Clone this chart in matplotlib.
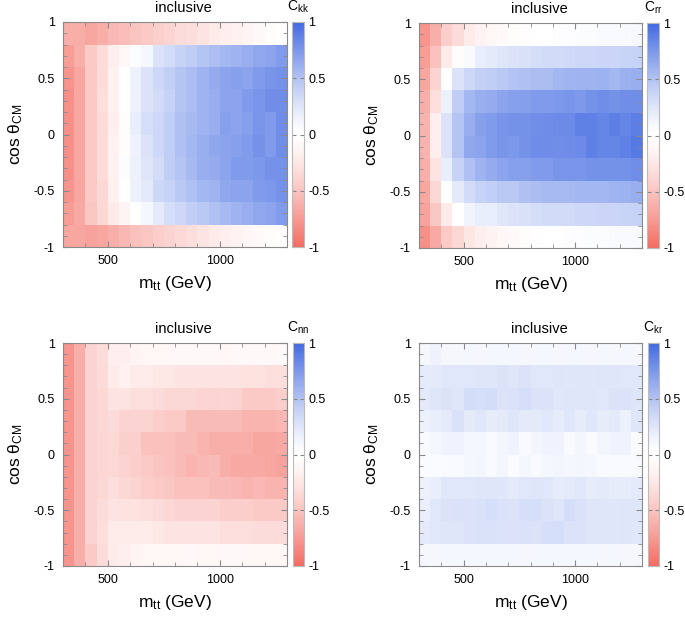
import numpy as np
import matplotlib
matplotlib.use('Agg')
import matplotlib.pyplot as plt
from matplotlib.colors import ListedColormap
from matplotlib.ticker import MultipleLocator

plt.rcParams['font.family'] = ['Liberation Sans', 'DejaVu Sans']
plt.rcParams['mathtext.fontset'] = 'custom'
plt.rcParams['mathtext.rm'] = 'Liberation Sans'
plt.rcParams['mathtext.it'] = 'Liberation Sans:italic'

# bins: m_tt 300..1300 GeV in 50 GeV steps, cos theta -1..1 in 0.2 steps
mtt_edges = np.arange(300, 1301, 50)
cos_edges = np.linspace(-1, 1, 11)

# rows listed from top (cos 0.8..1) to bottom (cos -1..-0.8)
c_kk = [
    [-0.62, -0.64, -0.68, -0.64, -0.57, -0.54, -0.49, -0.46, -0.42, -0.38, -0.33, -0.31, -0.27, -0.22, -0.19, -0.16, -0.13, -0.095, -0.05, -0.03],
    [-0.73, -0.62, -0.46, -0.33, -0.19, -0.11, 0.05, 0.11, 0.27, 0.33, 0.39, 0.43, 0.48, 0.52, 0.57, 0.59, 0.62, 0.66, 0.68, 0.73],
    [-0.78, -0.68, -0.46, -0.33, -0.16, 0.0, 0.16, 0.27, 0.36, 0.42, 0.48, 0.53, 0.59, 0.64, 0.68, 0.7, 0.68, 0.73, 0.76, 0.78],
    [-0.8, -0.68, -0.46, -0.31, -0.16, 0.0, 0.15, 0.27, 0.33, 0.39, 0.48, 0.53, 0.59, 0.62, 0.68, 0.68, 0.73, 0.76, 0.8, 0.8],
    [-0.8, -0.68, -0.46, -0.33, -0.19, -0.05, 0.19, 0.31, 0.36, 0.43, 0.51, 0.55, 0.59, 0.62, 0.7, 0.68, 0.71, 0.76, 0.73, 0.81],
    [-0.8, -0.68, -0.46, -0.33, -0.16, -0.05, 0.15, 0.27, 0.36, 0.43, 0.51, 0.57, 0.62, 0.66, 0.68, 0.7, 0.73, 0.78, 0.73, 0.8],
    [-0.8, -0.68, -0.46, -0.33, -0.16, 0.05, 0.16, 0.25, 0.33, 0.43, 0.48, 0.55, 0.62, 0.64, 0.68, 0.73, 0.73, 0.75, 0.78, 0.78],
    [-0.78, -0.68, -0.46, -0.36, -0.16, 0.0, 0.16, 0.22, 0.36, 0.39, 0.46, 0.51, 0.57, 0.59, 0.66, 0.68, 0.68, 0.73, 0.75, 0.78],
    [-0.73, -0.66, -0.48, -0.36, -0.22, -0.13, 0.0, 0.11, 0.22, 0.31, 0.36, 0.42, 0.46, 0.51, 0.55, 0.59, 0.62, 0.66, 0.68, 0.73],
    [-0.68, -0.68, -0.7, -0.68, -0.62, -0.57, -0.51, -0.48, -0.43, -0.39, -0.35, -0.31, -0.27, -0.22, -0.19, -0.145, -0.11, -0.08, -0.05, -0.03],
]

c_rr = [
    [-0.78, -0.62, -0.43, -0.33, -0.22, -0.145, -0.11, -0.08, -0.05, -0.03, 0.0, 0.0, 0.03, 0.03, 0.05, 0.05, 0.08, 0.08, 0.08, 0.095],
    [-0.73, -0.51, -0.22, -0.05, 0.08, 0.19, 0.22, 0.25, 0.27, 0.29, 0.31, 0.33, 0.33, 0.34, 0.36, 0.36, 0.37, 0.37, 0.38, 0.39],
    [-0.68, -0.39, 0.0, 0.27, 0.36, 0.41, 0.43, 0.46, 0.49, 0.51, 0.53, 0.53, 0.57, 0.58, 0.59, 0.59, 0.6, 0.57, 0.61, 0.62],
    [-0.62, -0.31, 0.16, 0.43, 0.57, 0.62, 0.64, 0.68, 0.7, 0.71, 0.73, 0.73, 0.75, 0.76, 0.74, 0.78, 0.8, 0.78, 0.8, 0.8],
    [-0.6, -0.19, 0.27, 0.48, 0.62, 0.7, 0.73, 0.76, 0.78, 0.78, 0.8, 0.81, 0.82, 0.82, 0.87, 0.87, 0.85, 0.89, 0.85, 0.89],
    [-0.6, -0.19, 0.27, 0.48, 0.66, 0.68, 0.73, 0.76, 0.75, 0.78, 0.81, 0.81, 0.8, 0.81, 0.82, 0.87, 0.85, 0.85, 0.87, 0.91],
    [-0.62, -0.27, 0.19, 0.39, 0.51, 0.59, 0.64, 0.68, 0.71, 0.7, 0.73, 0.73, 0.76, 0.76, 0.76, 0.78, 0.78, 0.78, 0.78, 0.8],
    [-0.68, -0.36, 0.0, 0.22, 0.33, 0.39, 0.42, 0.46, 0.46, 0.51, 0.53, 0.55, 0.55, 0.55, 0.57, 0.57, 0.57, 0.59, 0.6, 0.62],
    [-0.7, -0.48, -0.22, 0.0, 0.13, 0.19, 0.19, 0.24, 0.27, 0.29, 0.31, 0.33, 0.33, 0.33, 0.36, 0.36, 0.37, 0.37, 0.38, 0.39],
    [-0.8, -0.66, -0.46, -0.36, -0.25, -0.19, -0.145, -0.11, -0.08, -0.05, -0.03, 0.0, 0.0, 0.03, 0.03, 0.05, 0.05, 0.08, 0.08, 0.08],
]

c_nn = [
    [-0.78, -0.62, -0.39, -0.33, -0.19, -0.19, -0.13, -0.11, -0.11, -0.11, -0.095, -0.095, -0.095, -0.095, -0.11, -0.095, -0.095, -0.095, -0.095, -0.08],
    [-0.78, -0.62, -0.39, -0.33, -0.22, -0.16, -0.22, -0.22, -0.24, -0.24, -0.27, -0.27, -0.27, -0.27, -0.28, -0.28, -0.29, -0.29, -0.31, -0.31],
    [-0.78, -0.62, -0.39, -0.36, -0.27, -0.27, -0.31, -0.31, -0.33, -0.36, -0.36, -0.36, -0.38, -0.39, -0.38, -0.39, -0.46, -0.46, -0.46, -0.43],
    [-0.78, -0.62, -0.39, -0.36, -0.33, -0.39, -0.39, -0.39, -0.43, -0.46, -0.46, -0.55, -0.55, -0.55, -0.55, -0.55, -0.59, -0.59, -0.59, -0.57],
    [-0.78, -0.62, -0.39, -0.37, -0.36, -0.42, -0.42, -0.51, -0.51, -0.51, -0.55, -0.55, -0.59, -0.62, -0.62, -0.62, -0.62, -0.68, -0.68, -0.66],
    [-0.78, -0.62, -0.39, -0.37, -0.36, -0.39, -0.43, -0.46, -0.49, -0.51, -0.55, -0.59, -0.57, -0.55, -0.62, -0.66, -0.66, -0.66, -0.68, -0.7],
    [-0.78, -0.62, -0.39, -0.36, -0.31, -0.36, -0.39, -0.43, -0.46, -0.48, -0.51, -0.51, -0.51, -0.55, -0.55, -0.57, -0.59, -0.57, -0.59, -0.59],
    [-0.78, -0.62, -0.39, -0.33, -0.27, -0.29, -0.29, -0.31, -0.33, -0.36, -0.39, -0.39, -0.39, -0.39, -0.43, -0.43, -0.43, -0.46, -0.46, -0.46],
    [-0.78, -0.62, -0.39, -0.31, -0.22, -0.22, -0.22, -0.22, -0.24, -0.27, -0.27, -0.27, -0.27, -0.28, -0.31, -0.31, -0.31, -0.33, -0.33, -0.33],
    [-0.78, -0.62, -0.46, -0.33, -0.22, -0.19, -0.13, -0.11, -0.11, -0.11, -0.11, -0.095, -0.11, -0.11, -0.095, -0.095, -0.11, -0.11, -0.11, -0.11],
]

c_kr = [
    [0.1, 0.15, 0.1, 0.1, 0.11, 0.1, 0.11, 0.11, 0.11, 0.1, 0.11, 0.11, 0.1, 0.11, 0.11, 0.1, 0.11, 0.1, 0.11, 0.1],
    [0.21, 0.22, 0.24, 0.24, 0.24, 0.25, 0.25, 0.27, 0.25, 0.27, 0.24, 0.24, 0.25, 0.24, 0.25, 0.24, 0.25, 0.25, 0.24, 0.24],
    [0.22, 0.25, 0.27, 0.25, 0.32, 0.3, 0.32, 0.27, 0.28, 0.31, 0.27, 0.27, 0.24, 0.25, 0.25, 0.25, 0.24, 0.27, 0.27, 0.25],
    [0.16, 0.19, 0.22, 0.28, 0.22, 0.24, 0.2, 0.22, 0.25, 0.22, 0.22, 0.24, 0.2, 0.24, 0.2, 0.24, 0.2, 0.22, 0.16, 0.25],
    [0.08, 0.11, 0.14, 0.14, 0.11, 0.11, 0.08, 0.12, 0.14, 0.08, 0.12, 0.14, 0.14, 0.08, 0.12, 0.08, 0.12, 0.14, 0.14, 0.06],
    [0.06, 0.06, 0.08, 0.08, 0.11, 0.12, 0.08, 0.12, 0.06, 0.11, 0.08, 0.11, 0.12, 0.11, 0.12, 0.11, 0.08, 0.08, 0.08, 0.08],
    [0.16, 0.19, 0.24, 0.24, 0.24, 0.25, 0.25, 0.24, 0.22, 0.24, 0.25, 0.24, 0.2, 0.22, 0.24, 0.2, 0.22, 0.2, 0.2, 0.22],
    [0.18, 0.24, 0.27, 0.28, 0.27, 0.28, 0.3, 0.28, 0.27, 0.3, 0.3, 0.27, 0.25, 0.31, 0.28, 0.25, 0.25, 0.24, 0.25, 0.25],
    [0.22, 0.24, 0.25, 0.25, 0.27, 0.28, 0.28, 0.27, 0.27, 0.28, 0.27, 0.3, 0.31, 0.27, 0.27, 0.25, 0.25, 0.24, 0.25, 0.24],
    [0.1, 0.1, 0.11, 0.11, 0.11, 0.11, 0.11, 0.11, 0.11, 0.1, 0.11, 0.11, 0.11, 0.11, 0.11, 0.11, 0.1, 0.11, 0.1, 0.1],
]

cbar_labels = [r'$\mathrm{C_{kk}}$', r'$\mathrm{C_{rr}}$', r'$\mathrm{C_{nn}}$', r'$\mathrm{C_{kr}}$']
panels = [c_kk, c_rr, c_nn, c_kr]

# red - white - blue palette, a bit pale in the middle
red = np.array([243, 108, 98]) / 255
blue = np.array([65, 105, 225]) / 255
t = np.linspace(-1, 1, 257)
s = np.abs(t) ** 1.3
cols = [1 - (1 - (blue if v > 0 else red)) * f for v, f in zip(t, s)]
cmap = ListedColormap(cols)

W, H = 685, 617
fig = plt.figure(figsize=(W / 100, H / 100), dpi=100)

def box(l, t, r, b):
    return [l / W, 1 - b / H, (r - l) / W, (b - t) / H]

# (axes box, colorbar box) in pixels: left, top, right, bottom
layout = [
    ((63, 22, 287, 247), (292, 22, 304, 247)),
    ((419, 23, 642, 248), (647, 23, 659, 248)),
    ((63, 343, 287, 566), (293, 343, 304, 566)),
    ((419, 343, 642, 566), (648, 343, 659, 566)),
]

edge = '#8a8a8a'

for vals, lab, (abox, cbox) in zip(panels, cbar_labels, layout):
    ax = fig.add_axes(box(*abox))
    z = np.flipud(np.array(vals))
    mesh = ax.pcolormesh(mtt_edges, cos_edges, z, cmap=cmap, vmin=-1, vmax=1)
    ax.set_xlim(300, 1300)
    ax.set_ylim(-1, 1)
    ax.set_xticks([500, 1000])
    ax.xaxis.set_minor_locator(MultipleLocator(100))
    ax.set_yticks([-1, -0.5, 0, 0.5, 1])
    ax.set_yticklabels(['-1', '-0.5', '0', '0.5', '1'])
    ax.yaxis.set_minor_locator(MultipleLocator(0.1))
    ax.tick_params(which='both', direction='in', top=True, right=True, color=edge, labelsize=9)
    ax.tick_params(which='major', length=4, pad=6)
    ax.tick_params(which='minor', length=3)
    for sp in ax.spines.values():
        sp.set_color(edge)
    ax.set_xlabel(r'$\mathrm{m_{tt}}$ (GeV)', fontsize=12.5, labelpad=5)
    ax.set_ylabel(r'cos θ$_\mathrm{CM}$', fontsize=12.5, labelpad=6)

    # title sits over plot + colorbar together
    xc = (abox[0] + cbox[2]) / 2 / W
    fig.text(xc, 1 - (abox[1] - 14) / H, 'inclusive', fontsize=10.5, ha='center', va='center')

    cax = fig.add_axes(box(*cbox))
    cb = fig.colorbar(mesh, cax=cax, ticks=[-1, -0.5, 0, 0.5, 1])
    cb.ax.set_yticklabels(['-1', '-0.5', '0', '0.5', '1'])
    cb.outline.set_edgecolor('#bbbbbb')
    cb.ax.tick_params(direction='in', length=3, color='#888888', labelsize=9, pad=3,
                      left=True, right=True)
    cax.set_title(lab, fontsize=10, pad=8)

fig.savefig('out.png', dpi=100)
